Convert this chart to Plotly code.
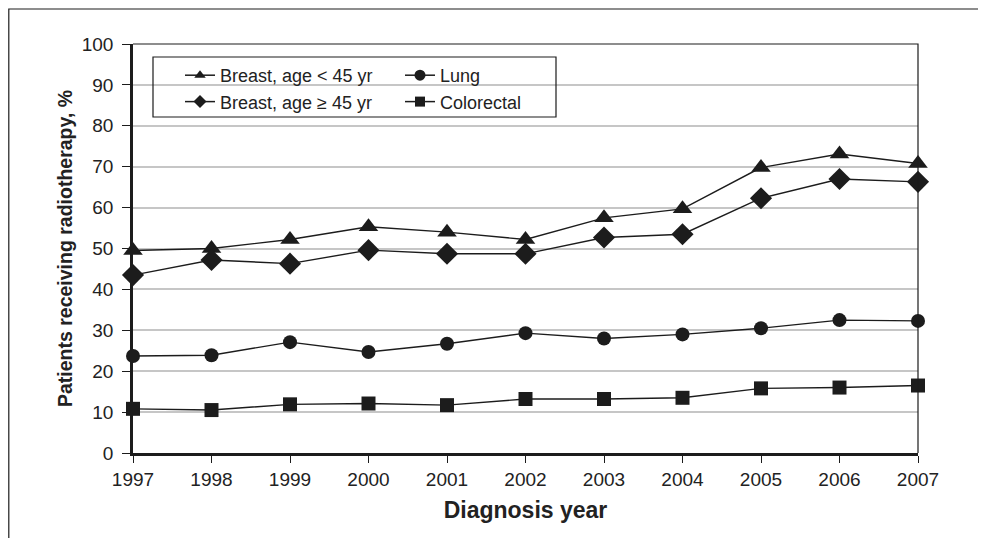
import plotly.graph_objects as go

years = [1997, 1998, 1999, 2000, 2001, 2002, 2003, 2004, 2005, 2006, 2007]
breast_lt45 = [49.5, 50.0, 52.2, 55.3, 54.0, 52.2, 57.5, 59.7, 69.8, 73.1, 70.8]
breast_ge45 = [43.5, 47.2, 46.3, 49.6, 48.7, 48.7, 52.7, 53.5, 62.3, 67.0, 66.3]
lung = [23.7, 23.9, 27.1, 24.7, 26.7, 29.3, 28.0, 29.0, 30.5, 32.5, 32.3]
colorectal = [10.8, 10.5, 11.9, 12.1, 11.7, 13.2, 13.2, 13.5, 15.8, 16.0, 16.5]

y_ticks = list(range(0, 101, 10))

FONT = "Liberation Sans, Arial, sans-serif"
INK = "#1c1c1c"
TXT = "#222222"

# (name, values, symbol, plot marker size, legend marker size, legend id)
series = [
    ("Breast, age < 45 yr", breast_lt45, "triangle-up", 17, 10, "legend"),
    ("Breast, age ≥ 45 yr", breast_ge45, "diamond", 17, 10, "legend"),
    ("Lung", lung, "circle", 14, 11, "legend2"),
    ("Colorectal", colorectal, "square", 14, 10, "legend2"),
]

fig = go.Figure()
for name, vals, sym, size, lsize, leg in series:
    fig.add_trace(go.Scatter(
        x=years, y=vals, name=name, mode="lines+markers",
        line=dict(color=INK, width=1.4),
        marker=dict(symbol=sym, size=size, color=INK),
        cliponaxis=False, showlegend=False,
    ))
# legend-only entries (smaller symbols, as in the original legend)
for name, vals, sym, size, lsize, leg in series:
    fig.add_trace(go.Scatter(
        x=[None], y=[None], name=name, mode="lines+markers",
        line=dict(color=INK, width=1.5),
        marker=dict(symbol=sym, size=lsize, color=INK),
        showlegend=True, legend=leg,
    ))

# page offset of the figure inside the browser (body margin)
OFF = 8
PL, PR, PT, PB = 133, 918, 44, 453  # plot area in page pixels
W, H = 978, 530


def px_x(p):
    return (p - PL) / (PR - PL)


def px_y(p):
    return (PB - p) / (PB - PT)


legend_common = dict(
    font=dict(family=FONT, size=18, color=TXT),
    bgcolor="rgba(0,0,0,0)", borderwidth=0,
    yanchor="top", xanchor="left", itemsizing="trace",
    traceorder="normal", tracegroupgap=0,
)

fig.update_layout(
    width=W, height=H,
    margin=dict(l=PL - OFF, r=W - (PR - OFF), t=PT - OFF, b=H - (PB - OFF)),
    paper_bgcolor="white", plot_bgcolor="white",
    font=dict(family=FONT, size=19, color=TXT),
    showlegend=True,
    legend=dict(x=px_x(180), y=px_y(57), **legend_common),
    legend2=dict(x=px_x(400), y=px_y(57), **legend_common),
    xaxis=dict(
        range=[1997, 2007], tickmode="array", tickvals=years,
        ticktext=[str(y) for y in years],
        showgrid=False, zeroline=False,
        showline=True, linecolor=INK, linewidth=2.5,
        ticks="outside", ticklen=7, tickcolor=INK, tickwidth=1,
        tickfont=dict(family=FONT, size=19, color=TXT),
        title=dict(text="<b>Diagnosis year</b>",
                   font=dict(family=FONT, size=23, color=TXT), standoff=14),
    ),
    yaxis=dict(
        range=[0, 100], tickmode="array", tickvals=y_ticks,
        showgrid=True, gridcolor="#c6c6c6", gridwidth=2, zeroline=False,
        showline=True, linecolor=INK, linewidth=2.5,
        ticks="outside", ticklen=8, tickcolor=INK, tickwidth=1,
        ticklabelstandoff=5,
        tickfont=dict(family=FONT, size=19, color=TXT),
        title=dict(text="<b>Patients receiving radiotherapy, %</b>",
                   font=dict(family=FONT, size=19.5, color=TXT), standoff=4),
    ),
    shapes=[
        # plot area top and right border
        dict(type="path", xref="paper", yref="paper",
             path="M 0,1 L 1,1 L 1,0", line=dict(color=INK, width=1.2)),
        # legend box
        dict(type="rect", xref="paper", yref="paper",
             x0=px_x(153), x1=px_x(556), y0=px_y(117), y1=px_y(57),
             line=dict(color=INK, width=1.2), fillcolor="rgba(0,0,0,0)"),
        # outer frame (left and top edges)
        dict(type="path", xref="paper", yref="paper",
             path="M %f,%f L %f,%f L %f,%f" % (
                 px_x(OFF + 0.8), px_y(560),
                 px_x(OFF + 0.8), px_y(9),
                 px_x(1000), px_y(9)),
             line=dict(color=INK, width=1.2)),
    ],
)

fig.write_html("out.html")
